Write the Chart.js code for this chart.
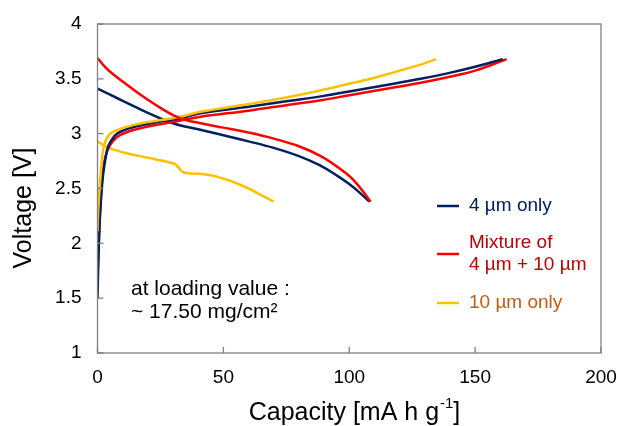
<!DOCTYPE html>
<html>
<head>
<meta charset="utf-8">
<script src="https://cdn.jsdelivr.net/npm/chart.js@4"></script>
<style>
  html, body { margin: 0; padding: 0; background: #fff; }
</style>
</head>
<body>
<canvas id="cycleChart" width="618" height="426"></canvas>
<script>
// Capacity axis ticks and voltage axis ticks
const capacityTicks = [0, 50, 100, 150, 200];
const voltageTicks = [1, 1.5, 2, 2.5, 3, 3.5, 4];

// 4 um only
const cap4Charge = [0, 0.3, 0.8, 1.2, 2, 2.8, 3.8, 5, 7.8, 14.4, 25, 33, 41, 60, 75, 88.7, 100, 112.5, 128.4, 139, 150, 161];
const volt4Charge = [1.5, 1.8, 2.15, 2.33, 2.58, 2.72, 2.85, 2.92, 3.0, 3.06, 3.11, 3.14, 3.186, 3.245, 3.295, 3.34, 3.385, 3.435, 3.5, 3.55, 3.61, 3.68];
const cap4Discharge = [0, 5, 10, 15, 20, 25, 30, 33, 40, 50, 60, 70, 80, 88, 95, 100, 104, 108];
const volt4Discharge = [3.41, 3.355, 3.3, 3.245, 3.19, 3.14, 3.095, 3.075, 3.04, 2.985, 2.93, 2.87, 2.795, 2.715, 2.62, 2.54, 2.465, 2.38];

// mixture of 4 um + 10 um
const capMixCharge = [0, 0.4, 0.8, 1.6, 2.5, 4, 6, 9.1, 17, 33, 41, 60, 75, 88.7, 100, 112.5, 128.4, 139, 150, 162.5];
const voltMixCharge = [1.68, 1.95, 2.2, 2.5, 2.72, 2.85, 2.93, 2.99, 3.05, 3.12, 3.155, 3.21, 3.26, 3.305, 3.35, 3.4, 3.465, 3.515, 3.575, 3.68];
const capMixDischarge = [0, 2.5, 5, 10, 15, 20, 25, 30, 35, 41, 50, 60, 70, 80, 88.7, 96.6, 102, 108.5];
const voltMixDischarge = [3.69, 3.62, 3.565, 3.475, 3.39, 3.31, 3.235, 3.17, 3.125, 3.095, 3.055, 3.01, 2.955, 2.885, 2.795, 2.675, 2.57, 2.38];

// 10 um only
const cap10Charge = [0, 0.4, 1, 1.7, 2.5, 4, 6.5, 14.4, 33, 41, 60, 75, 88.7, 100, 110, 120, 128.4, 134.5];
const volt10Charge = [2.11, 2.35, 2.55, 2.75, 2.88, 2.97, 3.02, 3.08, 3.155, 3.2, 3.27, 3.33, 3.395, 3.455, 3.51, 3.575, 3.63, 3.68];
const cap10Discharge = [0, 2, 4, 10, 20, 30, 31.5, 33, 34, 36, 40, 45, 50, 55, 60, 65, 70];
const volt10Discharge = [2.93, 2.9, 2.875, 2.83, 2.78, 2.73, 2.71, 2.67, 2.65, 2.64, 2.635, 2.62, 2.59, 2.55, 2.5, 2.44, 2.38];

const NAVY = '#002060';
const RED = '#ff0000';
const GOLD = '#ffc000';
const FONT = 'Arial, "Liberation Sans", sans-serif';

function toPoints(xs, ys) {
    return xs.map((x, i) => ({ x: x, y: ys[i] }));
}

function curve(xs, ys, color) {
    return {
        data: toPoints(xs, ys),
        borderColor: color,
        borderWidth: 2.5,
        pointRadius: 0,
        showLine: true,
        fill: false,
        tension: 0.4
    };
}

// frame, inner tick marks, axis titles, note and legend
const decorations = {
    id: 'decorations',
    afterDraw(chart) {
        const ctx = chart.ctx;
        const area = chart.chartArea;
        const xs = chart.scales.x;
        const ys = chart.scales.y;
        ctx.save();
        ctx.strokeStyle = '#808080';
        ctx.lineWidth = 1.3;
        ctx.strokeRect(area.left, area.top, area.right - area.left, area.bottom - area.top);

        ctx.beginPath();
        capacityTicks.forEach(v => {
            const px = xs.getPixelForValue(v);
            ctx.moveTo(px, area.bottom);
            ctx.lineTo(px, area.bottom - 6);
        });
        voltageTicks.forEach(v => {
            const py = ys.getPixelForValue(v);
            ctx.moveTo(area.left, py);
            ctx.lineTo(area.left + 6, py);
        });
        ctx.stroke();

        // x title with superscript
        ctx.fillStyle = '#000';
        ctx.textBaseline = 'middle';
        ctx.font = '25px ' + FONT;
        const main = 'Capacity [mA h g';
        const sup = '-1';
        const tail = ']';
        const wMain = ctx.measureText(main).width;
        const wTail = ctx.measureText(tail).width;
        ctx.font = '15px ' + FONT;
        const wSup = ctx.measureText(sup).width;
        let tx = 354 - (wMain + wSup + wTail) / 2;
        const ty = 413;
        ctx.font = '25px ' + FONT;
        ctx.textAlign = 'left';
        ctx.fillText(main, tx, ty);
        ctx.font = '15px ' + FONT;
        ctx.fillText(sup, tx + wMain + 1, ty - 9);
        ctx.font = '25px ' + FONT;
        ctx.fillText(tail, tx + wMain + wSup + 1, ty);

        // y title
        ctx.save();
        ctx.translate(24, 208);
        ctx.rotate(-Math.PI / 2);
        ctx.textAlign = 'center';
        ctx.fillText('Voltage [V]', 0, 0);
        ctx.restore();

        // loading note
        ctx.font = '21px ' + FONT;
        ctx.textAlign = 'left';
        ctx.fillText('at loading value :', 131, 289);
        ctx.fillText('~ 17.50 mg/cm\u00b2', 131, 312);

        // legend
        const items = [
            { color: NAVY, text: ['4 \u00b5m only'], textColor: NAVY, y: 206 },
            { color: RED, text: ['Mixture of', '4 \u00b5m + 10 \u00b5m'], textColor: '#c00000', y: 254 },
            { color: GOLD, text: ['10 \u00b5m only'], textColor: '#c55a11', y: 303 }
        ];
        ctx.font = '19px ' + FONT;
        ctx.lineWidth = 2.5;
        items.forEach(it => {
            ctx.strokeStyle = it.color;
            ctx.beginPath();
            ctx.moveTo(437, it.y);
            ctx.lineTo(459, it.y);
            ctx.stroke();
            ctx.fillStyle = it.textColor;
            const lh = 22.5;
            const y0 = it.y - (it.text.length - 1) * lh / 2;
            it.text.forEach((t, i) => ctx.fillText(t, 469, y0 + i * lh));
        });
        ctx.restore();
    }
};

const ctx = document.getElementById('cycleChart').getContext('2d');
const cycleChart = new Chart(ctx, {
    type: 'scatter',
    data: {
        datasets: [
            curve(capMixDischarge, voltMixDischarge, RED),
            curve(cap10Charge, volt10Charge, GOLD),
            curve(cap4Charge, volt4Charge, NAVY),
            curve(capMixCharge, voltMixCharge, RED),
            curve(cap4Discharge, volt4Discharge, NAVY),
            curve(cap10Discharge, volt10Discharge, GOLD)
        ]
    },
    options: {
        responsive: false,
        animation: false,
        layout: { padding: { top: 24, right: 17, left: 0, bottom: 0 } },
        scales: {
            x: {
                type: 'linear',
                min: 0,
                max: 200,
                afterBuildTicks: s => { s.ticks = capacityTicks.map(v => ({ value: v })); },
                afterFit: s => { s.height = 73; s.paddingLeft = 0; s.paddingRight = 0; },
                grid: { display: false, drawTicks: false },
                border: { display: false },
                ticks: { padding: 13, color: '#000', font: { family: FONT, size: 19 }, callback: v => String(v) }
            },
            y: {
                type: 'linear',
                min: 1,
                max: 4,
                afterBuildTicks: s => { s.ticks = voltageTicks.map(v => ({ value: v })); },
                afterFit: s => { s.width = 97.5; s.paddingTop = 0; s.paddingBottom = 0; },
                grid: { display: false, drawTicks: false },
                border: { display: false },
                ticks: { padding: 16, color: '#000', font: { family: FONT, size: 19 }, callback: v => String(v) }
            }
        },
        plugins: {
            legend: { display: false },
            tooltip: { enabled: false }
        }
    },
    plugins: [decorations]
});
</script>
</body>
</html>
